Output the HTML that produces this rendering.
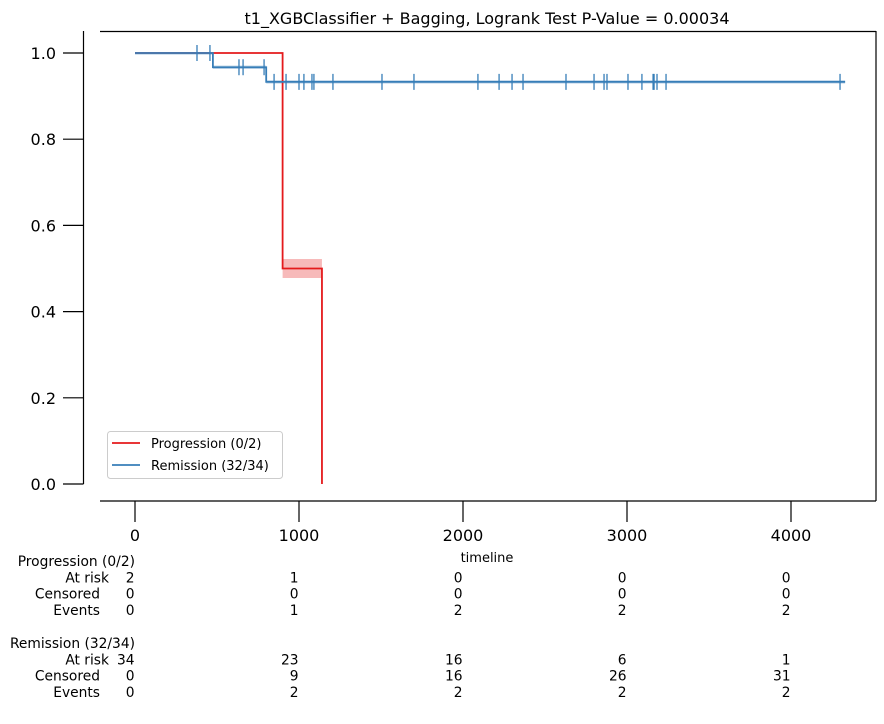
<!DOCTYPE html>
<html><head><meta charset="utf-8"><style>
html,body{margin:0;padding:0;background:#fff;}
svg{display:block;font-family:"DejaVu Sans","Liberation Sans",sans-serif;}
</style></head><body>
<svg id="c" width="884" height="724" viewBox="0 0 884 724" xmlns="http://www.w3.org/2000/svg">
<text x="487" y="24" font-size="16" text-anchor="middle">t1_XGBClassifier + Bagging, Logrank Test P-Value = 0.00034</text>
<line x1="100" y1="31.5" x2="876" y2="31.5" stroke="#000" stroke-width="1.2"/>
<line x1="876" y1="31" x2="876" y2="501" stroke="#000" stroke-width="1.2"/>
<line x1="83.5" y1="31" x2="83.5" y2="484" stroke="#000" stroke-width="1.2"/>
<line x1="100" y1="501" x2="876" y2="501" stroke="#000" stroke-width="1.2"/>
<g id="plot"></g>
<g id="axes"></g>
<g>
<rect x="107.5" y="431.5" width="175" height="47" rx="3" fill="#fff" fill-opacity="0.85" stroke="#ccc"/>
<line x1="112" y1="443" x2="140" y2="443" stroke="#e41a1c" stroke-width="1.8"/>
<text x="151" y="448" font-size="13">Progression (0/2)</text>
<line x1="112" y1="465" x2="140" y2="465" stroke="#377eb8" stroke-width="1.8"/>
<text x="151" y="470" font-size="13">Remission (32/34)</text>
</g>
<text x="487" y="562" font-size="13" text-anchor="middle">timeline</text>
<g id="table" font-size="13.8"></g>
</svg>
<script>
const xTicks=[0,1000,2000,3000,4000];
const yTicks=[0.0,0.2,0.4,0.6,0.8,1.0];
const progTimes=[0,900,1140];
const progSurv=[1.0,0.5,0.0];
const progEnd=1140;
const progCIUpper=[1.0,0.522,0.0];
const progCILower=[1.0,0.478,0.0];
const remTimes=[0,475,800];
const remSurv=[1.0,0.967,0.933];
const remEnd=4330;
const remCensor=[378,457,634,659,787,848,921,1000,1030,1079,1091,1207,1506,1701,2091,2220,2299,2366,2628,2799,2860,2878,3006,3091,3159,3165,3183,3238,4299];
const tableCols=[0,1000,2000,3000,4000];
const progAtRisk=[2,1,0,0,0];
const progCensored=[0,0,0,0,0];
const progEvents=[0,1,2,2,2];
const remAtRisk=[34,23,16,6,1];
const remCensored=[0,9,16,26,31];
const remEvents=[0,2,2,2,2];

const X=t=>135+t*0.164;
const Y=v=>484-v*431;
const NS='http://www.w3.org/2000/svg';
function mk(tag,attrs,parent,txt){const e=document.createElementNS(NS,tag);for(const k in attrs)e.setAttribute(k,attrs[k]);if(txt!==undefined)e.textContent=txt;parent.appendChild(e);return e;}
const plot=document.getElementById('plot'),axes=document.getElementById('axes'),table=document.getElementById('table');

function stepPath(times,vals,end){let d='M'+X(times[0])+','+Y(vals[0]);for(let i=1;i<times.length;i++){d+=' H'+X(times[i])+' V'+Y(vals[i]);}d+=' H'+X(end);return d;}
function bandPath(times,up,lo,end){let pts=[];for(let i=0;i<times.length;i++){const t2=i+1<times.length?times[i+1]:end;pts.push([X(times[i]),Y(up[i])],[X(t2),Y(up[i])]);}let low=[];for(let i=times.length-1;i>=0;i--){const t2=i+1<times.length?times[i+1]:end;low.push([X(t2),Y(lo[i])],[X(times[i]),Y(lo[i])]);}return 'M'+pts.concat(low).map(p=>p.join(',')).join(' L')+' Z';}

let b=mk('path',{d:bandPath(progTimes,progCIUpper,progCILower,progEnd),fill:'#e41a1c','fill-opacity':0.3,stroke:'none'},plot);


const remUp=remSurv.map(v=>Math.min(1,v+0.004)),remLo=remSurv.map(v=>v-0.004);
b=mk('path',{d:bandPath(remTimes,remUp,remLo,remEnd),fill:'#377eb8','fill-opacity':0.3,stroke:'none'},plot);



let p=mk('path',{d:stepPath(progTimes,progSurv,progEnd),fill:'none',stroke:'#e41a1c','stroke-width':1.8},plot);


p=mk('path',{d:stepPath(remTimes,remSurv,remEnd),fill:'none',stroke:'#377eb8','stroke-width':1.8},plot);


function survAt(t){let v=remSurv[0];for(let i=0;i<remTimes.length;i++)if(remTimes[i]<=t)v=remSurv[i];return v;}
remCensor.forEach(t=>{const y=Y(survAt(t));const l=mk('line',{x1:X(t),x2:X(t),y1:y-8,y2:y+8,stroke:'#377eb8','stroke-width':1.3},plot);

});

xTicks.forEach(t=>{const l=mk('line',{x1:X(t),x2:X(t),y1:501,y2:522,stroke:'#000','stroke-width':1.2},axes);


const tx=mk('text',{x:X(t),y:541,'font-size':16,'text-anchor':'middle'},axes,String(t));

});
yTicks.forEach(v=>{const l=mk('line',{x1:63,x2:83.5,y1:Y(v),y2:Y(v),stroke:'#000','stroke-width':1.2},axes);


const tx=mk('text',{x:56,y:Y(v)+6,'font-size':16,'text-anchor':'end'},axes,v.toFixed(1));

});

function block(title,y0,rows,nameBase){let t=mk('text',{x:135,y:y0,'text-anchor':'end'},table,title);


rows.forEach((r,i)=>{const y=y0+16.3*(i+1);const lab=mk('text',{x:r[2],y:y,'text-anchor':'end'},table,r[0]);


r[1].forEach((v,j)=>{const c=mk('text',{x:X(tableCols[j])-0.5,y:y,'text-anchor':'end'},table,String(v));

});});}
block('Progression (0/2)',566,[['At risk',progAtRisk,109],['Censored',progCensored,100],['Events',progEvents,100]],'progression');
block('Remission (32/34)',648,[['At risk',remAtRisk,109],['Censored',remCensored,100],['Events',remEvents,100]],'remission');
</script>
</body></html>
